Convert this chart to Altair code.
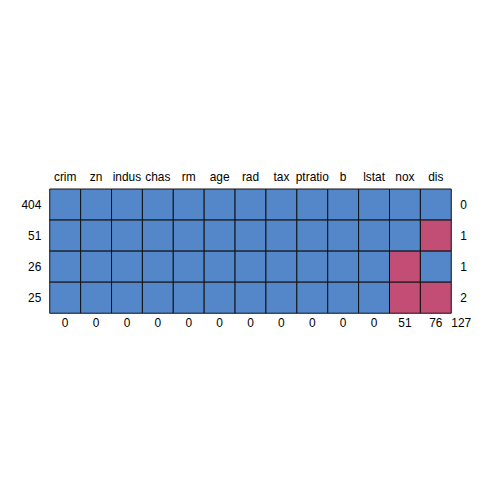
import altair as alt
import pandas as pd

columns = ["crim", "zn", "indus", "chas", "rm", "age", "rad", "tax", "ptratio", "b", "lstat", "nox", "dis"]
row_counts = ["404", "51", "26", "25"]
row_missing = [0, 1, 1, 2]
col_missing = [0, 0, 0, 0, 0, 0, 0, 0, 0, 0, 0, 51, 76]
total_missing = 127
# 1 = observed, 0 = missing
patterns = [
    [1, 1, 1, 1, 1, 1, 1, 1, 1, 1, 1, 1, 1],
    [1, 1, 1, 1, 1, 1, 1, 1, 1, 1, 1, 1, 0],
    [1, 1, 1, 1, 1, 1, 1, 1, 1, 1, 1, 0, 1],
    [1, 1, 1, 1, 1, 1, 1, 1, 1, 1, 1, 0, 0],
]

cells = pd.DataFrame(
    [
        {"col": c, "row": r, "obs": "observed" if patterns[i][j] else "missing"}
        for i, r in enumerate(row_counts)
        for j, c in enumerate(columns)
    ]
)
right_df = pd.DataFrame({"row": row_counts, "n": [str(v) for v in row_missing]})
bottom_df = pd.DataFrame({"col": columns, "n": [str(v) for v in col_missing]})
total_df = pd.DataFrame({"n": [str(total_missing)]})

W, H = 404, 125
FONT = "Liberation Sans"

xs = alt.X("col:N", sort=columns, scale=alt.Scale(paddingInner=0, paddingOuter=0),
           axis=alt.Axis(orient="top", title=None, ticks=False, domain=False,
                         labelAngle=0, labelPadding=6, labelFontSize=12,
                         labelFont=FONT, labelColor="black"))
ys = alt.Y("row:N", sort=row_counts, scale=alt.Scale(paddingInner=0, paddingOuter=0),
           axis=alt.Axis(title=None, ticks=False, domain=False, labelPadding=9,
                         labelFontSize=12, labelFont=FONT, labelColor="black"))

rects = alt.Chart(cells).mark_rect(stroke="#111111", strokeWidth=1).encode(
    x=xs, y=ys,
    color=alt.Color("obs:N", scale=alt.Scale(domain=["observed", "missing"],
                                             range=["#5387C9", "#C24D75"]), legend=None),
)

right = alt.Chart(right_df).mark_text(align="left", baseline="middle", fontSize=12,
                                      font=FONT, color="black").encode(
    x=alt.value(W + 9), y=alt.Y("row:N", sort=row_counts), text="n:N")

bottom = alt.Chart(bottom_df).mark_text(align="center", baseline="alphabetic", fontSize=12,
                                        font=FONT, color="black").encode(
    x=alt.X("col:N", sort=columns), y=alt.value(H + 14), text="n:N")

total = alt.Chart(total_df).mark_text(align="center", baseline="alphabetic", fontSize=12,
                                      font=FONT, color="black").encode(
    x=alt.value(W + 10), y=alt.value(H + 14), text="n:N")

chart = alt.layer(rects, right, bottom, total).properties(
    width=W, height=H,
    autosize=alt.AutoSizeParams(type="none"),
    padding={"left": 42, "top": 181, "right": 45, "bottom": 60},
    background="white",
).configure_view(stroke=None)

chart.save("out.html", embed_options={"renderer": "svg", "actions": False})
